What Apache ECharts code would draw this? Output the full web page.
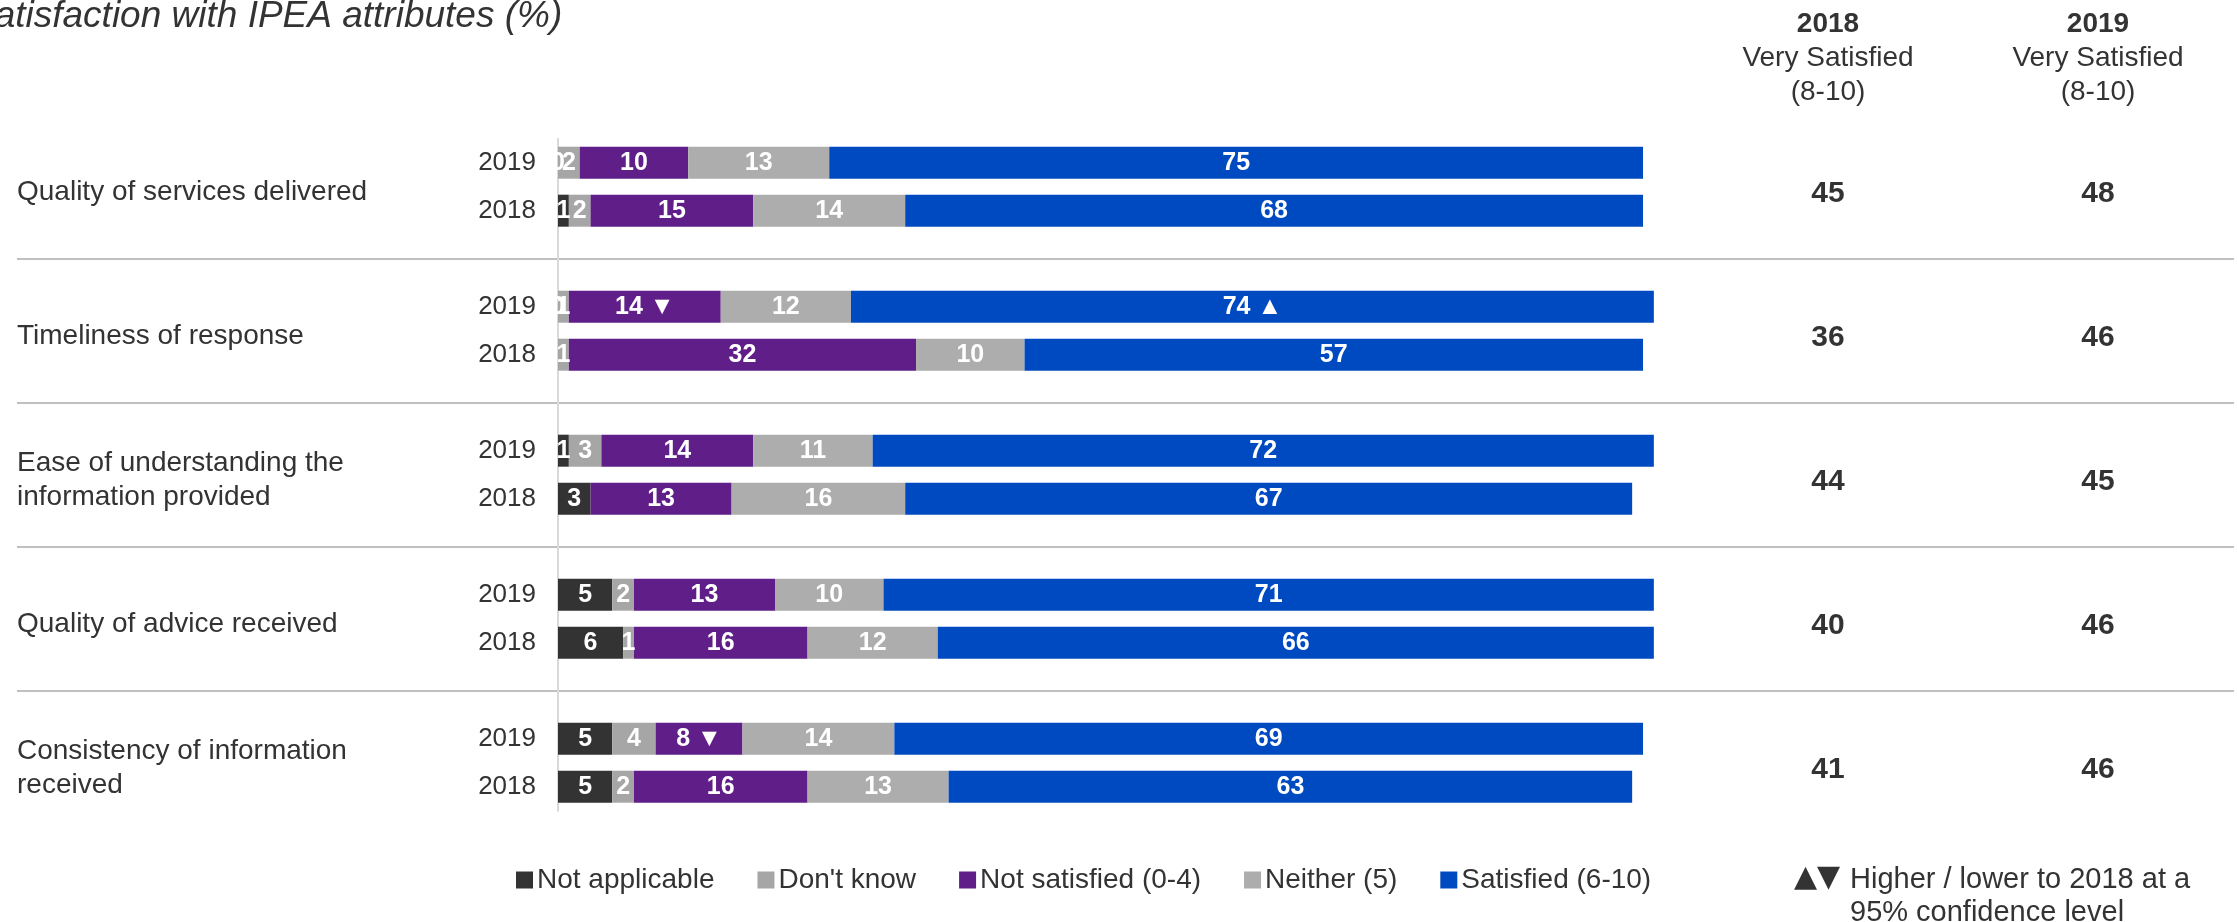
<!DOCTYPE html>
<html>
<head>
<meta charset="utf-8">
<title>Satisfaction with IPEA attributes</title>
<script src="https://cdn.jsdelivr.net/npm/echarts@6/dist/echarts.min.js"></script>
<style>
  html, body { margin: 0; padding: 0; background: #ffffff; }
  #chart { width: 2238px; height: 922px; }
</style>
</head>
<body>
<div id="chart"></div>
<script>
// Attributes rated, top to bottom
const attributes = [
  'Quality of services delivered',
  'Timeliness of response',
  'Ease of understanding the\ninformation provided',
  'Quality of advice received',
  'Consistency of information\nreceived'
];
const rowYears = ['2019', '2018'];

// Response shares (%) per attribute, one array per year
const notApplicable2019 = [0, 0, 1, 5, 5];
const notApplicable2018 = [1, null, 3, 6, 5];
const dontKnow2019 = [2, 1, 3, 2, 4];
const dontKnow2018 = [2, 1, null, 1, 2];
const notSatisfied2019 = [10, 14, 14, 13, 8];
const notSatisfied2018 = [15, 32, 13, 16, 16];
const neither2019 = [13, 12, 11, 10, 14];
const neither2018 = [14, 10, 16, 12, 13];
const satisfied2019 = [75, 74, 72, 71, 69];
const satisfied2018 = [68, 57, 67, 66, 63];

// Significant change vs 2018 (95% confidence)
const notSatisfiedSig2019 = ['', '▼', '', '', '▼'];
const satisfiedSig2019 = ['', '▲', '', '', ''];

// Very satisfied (8-10) columns
const verySatisfied2018 = [45, 36, 44, 40, 41];
const verySatisfied2019 = [48, 46, 45, 46, 46];
const columnYears = ['2018', '2019'];

const seriesNames = ['Not applicable', "Don't know", 'Not satisfied (0-4)', 'Neither (5)', 'Satisfied (6-10)'];
const seriesColors = ['#333333', '#A6A6A6', '#601F88', '#ADADAD', '#004AC1'];

// One slot per year row, with an empty slot between attribute groups
const slotLabels = [];
attributes.forEach((a, k) => {
  slotLabels.push(rowYears[0], rowYears[1]);
  if (k < attributes.length - 1) slotLabels.push('');
});

function toSlots(v2019, v2018) {
  const out = [];
  attributes.forEach((a, k) => {
    out.push(v2019[k], v2018[k]);
    if (k < attributes.length - 1) out.push(null);
  });
  return out;
}
const blankMarks = attributes.map(() => '');

const seriesValues = [
  toSlots(notApplicable2019, notApplicable2018),
  toSlots(dontKnow2019, dontKnow2018),
  toSlots(notSatisfied2019, notSatisfied2018),
  toSlots(neither2019, neither2018),
  toSlots(satisfied2019, satisfied2018)
];
const seriesMarks = [
  null,
  null,
  toSlots(notSatisfiedSig2019, blankMarks),
  null,
  toSlots(satisfiedSig2019, blankMarks)
];

const SLOT = 48;
const BAR_TOP = 138.7;
const FONT = '"Liberation Sans", Arial, Helvetica, sans-serif';

const barSeries = seriesNames.map((name, i) => ({
  name: name,
  type: 'bar',
  stack: 'total',
  xAxisIndex: 0,
  yAxisIndex: 0,
  barWidth: 32,
  clip: false,
  itemStyle: { color: seriesColors[i] },
  label: {
    show: true,
    position: 'inside',
    color: '#ffffff',
    fontFamily: FONT,
    fontWeight: 'bold',
    fontSize: 25,
    formatter: function (p) {
      const marks = seriesMarks[i];
      const m = marks ? marks[p.dataIndex] : '';
      return p.value + (m ? ' ' + m : '');
    }
  },
  emphasis: { disabled: true },
  data: seriesValues[i]
}));

function columnSeries(values, col) {
  return {
    type: 'scatter',
    xAxisIndex: 2,
    yAxisIndex: 2,
    symbolSize: 1,
    itemStyle: { color: 'rgba(0,0,0,0)' },
    label: {
      show: true,
      position: 'inside',
      offset: [0, 7],
      color: '#000000',
      fontFamily: FONT,
      fontWeight: 'bold',
      fontSize: 30,
      formatter: function (p) { return String(p.value[2]); }
    },
    emphasis: { disabled: true },
    data: values.map((v, k) => [col, k, v])
  };
}

const chart = echarts.init(document.getElementById('chart'), null, { renderer: 'canvas' });

chart.setOption({
  animation: false,
  backgroundColor: '#ffffff',
  textStyle: { fontFamily: FONT },
  title: [
    {
      text: 'Satisfaction with IPEA attributes (%)',
      left: -35,
      top: -7,
      textStyle: { fontFamily: FONT, fontStyle: 'italic', fontWeight: 'normal', fontSize: 37, color: '#333333' }
    },
    {
      text: '▲▼',
      left: 1789,
      top: 858,
      textStyle: { fontFamily: '"DejaVu Sans", sans-serif', fontWeight: 'normal', fontSize: 30, color: '#333333' }
    },
    {
      text: 'Higher / lower to 2018 at a\n95% confidence level',
      left: 1845,
      top: 858,
      textStyle: { fontFamily: FONT, fontWeight: 'normal', fontSize: 29, lineHeight: 33, color: '#333333' }
    }
  ],
  legend: {
    data: seriesNames,
    left: 516,
    top: 866,
    padding: 0,
    icon: 'rect',
    itemWidth: 17,
    itemHeight: 17,
    itemGap: 43,
    selectedMode: false,
    textStyle: { fontFamily: FONT, fontSize: 28, color: '#333333', padding: [0, 0, 0, -1] }
  },
  grid: [
    // stacked bars
    { left: 558, top: BAR_TOP, width: 1085, height: SLOT * 14 },
    // group separators
    { left: 17, top: BAR_TOP - SLOT / 2, width: 2217, height: SLOT * 15 },
    // very satisfied columns
    { left: 1693, top: BAR_TOP - SLOT / 2, width: 540, height: SLOT * 15 },
    // attribute names
    { left: 17, top: BAR_TOP - SLOT / 2 + 6, width: 500, height: SLOT * 15 }
  ],
  xAxis: [
    { gridIndex: 0, type: 'value', min: 0, max: 100, show: false },
    { gridIndex: 1, type: 'value', min: 0, max: 1, show: false },
    {
      gridIndex: 2,
      type: 'category',
      position: 'top',
      data: columnYears,
      axisLine: { show: false },
      axisTick: { show: false },
      splitLine: { show: false },
      axisLabel: {
        margin: 5,
        interval: 0,
        formatter: function (v) { return '{y|' + v + '}\n{t|Very Satisfied}\n{t|(8-10)}'; },
        rich: {
          y: { fontFamily: FONT, fontWeight: 'bold', fontSize: 28, lineHeight: 35, color: '#333333' },
          t: { fontFamily: FONT, fontWeight: 'normal', fontSize: 28, lineHeight: 34, color: '#333333' }
        }
      }
    },
    { gridIndex: 3, type: 'value', min: 0, max: 1, show: false }
  ],
  yAxis: [
    {
      gridIndex: 0,
      type: 'category',
      inverse: true,
      data: slotLabels,
      axisLine: { show: true, lineStyle: { color: '#D9D9D9', width: 2 } },
      axisTick: { show: false },
      splitLine: { show: false },
      axisLabel: { interval: 0, margin: 22, fontFamily: FONT, fontSize: 26, color: '#333333' }
    },
    {
      gridIndex: 1,
      type: 'category',
      inverse: true,
      data: attributes,
      axisLine: { show: false },
      axisTick: { show: false },
      axisLabel: { show: false },
      splitLine: {
        show: true,
        showMinLine: false,
        showMaxLine: false,
        lineStyle: { color: '#BFBFBF', width: 2 }
      }
    },
    {
      gridIndex: 2,
      type: 'category',
      inverse: true,
      data: attributes,
      show: false
    },
    {
      gridIndex: 3,
      type: 'category',
      inverse: true,
      data: attributes,
      axisLine: { show: false },
      axisTick: { show: false },
      splitLine: { show: false },
      axisLabel: {
        inside: true,
        margin: 0,
        interval: 0,
        align: 'left',
        fontFamily: FONT,
        fontSize: 28,
        lineHeight: 34,
        color: '#333333'
      }
    }
  ],
  series: barSeries.concat([
    columnSeries(verySatisfied2018, columnYears[0]),
    columnSeries(verySatisfied2019, columnYears[1])
  ])
});
</script>
</body>
</html>
